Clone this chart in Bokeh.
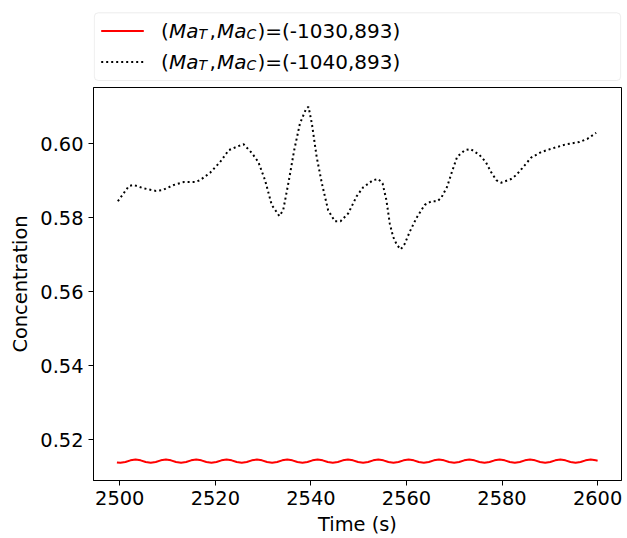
from bokeh.plotting import figure
from bokeh.layouts import column
from bokeh.models import Range1d, FixedTicker, BoxAnnotation, NumeralTickFormatter
from bokeh.core.properties import value
from bokeh.embed import file_html
from bokeh.resources import INLINE

# ---- data ----
time_red = [2499.40,
            2500.13, 2501.18, 2502.24, 2503.30, 2504.36, 2505.42,
            2506.48, 2507.53, 2508.59, 2509.65, 2510.71, 2511.77,
            2512.83, 2513.88, 2514.94, 2516.00, 2517.06, 2518.12,
            2519.18, 2520.23, 2521.29, 2522.35, 2523.41, 2524.47,
            2525.53, 2526.58, 2527.64, 2528.70, 2529.76, 2530.82,
            2531.88, 2532.93, 2533.99, 2535.05, 2536.11, 2537.17,
            2538.23, 2539.28, 2540.34, 2541.40, 2542.46, 2543.52,
            2544.58, 2545.63, 2546.69, 2547.75, 2548.81, 2549.87,
            2550.93, 2551.98, 2553.04, 2554.10, 2555.16, 2556.22,
            2557.28, 2558.33, 2559.39, 2560.45, 2561.51, 2562.57,
            2563.63, 2564.68, 2565.74, 2566.80, 2567.86, 2568.92,
            2569.98, 2571.03, 2572.09, 2573.15, 2574.21, 2575.27,
            2576.33, 2577.38, 2578.44, 2579.50, 2580.56, 2581.62,
            2582.68, 2583.73, 2584.79, 2585.85, 2586.91, 2587.97,
            2589.03, 2590.08, 2591.14, 2592.20, 2593.26, 2594.32,
            2595.38, 2596.43, 2597.49, 2598.55, 2599.61, 2600.00]
conc_red = [0.51380,
            0.51370, 0.51393, 0.51438, 0.51460, 0.51438, 0.51393,
            0.51370, 0.51393, 0.51438, 0.51460, 0.51438, 0.51393,
            0.51370, 0.51393, 0.51438, 0.51460, 0.51438, 0.51393,
            0.51370, 0.51393, 0.51438, 0.51460, 0.51438, 0.51393,
            0.51370, 0.51393, 0.51438, 0.51460, 0.51438, 0.51393,
            0.51370, 0.51393, 0.51438, 0.51460, 0.51438, 0.51393,
            0.51370, 0.51393, 0.51438, 0.51460, 0.51438, 0.51393,
            0.51370, 0.51393, 0.51438, 0.51460, 0.51438, 0.51393,
            0.51370, 0.51393, 0.51438, 0.51460, 0.51438, 0.51393,
            0.51370, 0.51393, 0.51438, 0.51460, 0.51438, 0.51393,
            0.51370, 0.51393, 0.51438, 0.51460, 0.51438, 0.51393,
            0.51370, 0.51393, 0.51438, 0.51460, 0.51438, 0.51393,
            0.51370, 0.51393, 0.51438, 0.51460, 0.51438, 0.51393,
            0.51370, 0.51393, 0.51438, 0.51460, 0.51438, 0.51393,
            0.51370, 0.51393, 0.51438, 0.51460, 0.51438, 0.51393,
            0.51370, 0.51393, 0.51438, 0.51460, 0.51438, 0.51425]

time_black = [2499.6, 2501.9, 2502.9, 2505.0, 2507.5, 2508.9, 2511.3, 2513.4, 2515.8, 2516.8,
              2518.9, 2521.0, 2522.8, 2524.8, 2525.9, 2527.6, 2529.0, 2530.4, 2531.8, 2533.4,
              2534.2, 2535.4, 2536.5, 2537.7, 2539.0, 2539.5, 2540.2, 2541.2, 2542.3, 2543.6,
              2545.0, 2546.2, 2547.8, 2549.6, 2550.9, 2553.0, 2554.1, 2555.0, 2555.8, 2556.5,
              2557.2, 2558.0, 2558.8, 2559.6, 2560.7, 2562.1, 2563.8, 2565.2, 2566.5, 2567.3,
              2568.5, 2569.5, 2570.6, 2572.2, 2573.4, 2575.2, 2576.6, 2577.7, 2578.8, 2579.8,
              2581.9, 2583.0, 2584.2, 2586.1, 2588.2, 2590.6, 2593.4, 2596.2, 2597.9, 2599.7]
conc_black = [0.5844, 0.5885, 0.5888, 0.5879, 0.5872, 0.5874, 0.5888, 0.5896, 0.5896, 0.5901,
              0.5921, 0.5950, 0.5982, 0.5993, 0.5998, 0.5975, 0.5950, 0.5901, 0.5834, 0.5804,
              0.5820, 0.5901, 0.5982, 0.6054, 0.6094, 0.6099, 0.6054, 0.5964, 0.5892, 0.5820,
              0.5790, 0.5790, 0.5811, 0.5858, 0.5881, 0.5901, 0.5904, 0.5892, 0.5847, 0.5784,
              0.5748, 0.5726, 0.5714, 0.5728, 0.5762, 0.5799, 0.5834, 0.5844, 0.5844, 0.5854,
              0.5883, 0.5923, 0.5964, 0.5982, 0.5985, 0.5970, 0.5950, 0.5923, 0.5901, 0.5894,
              0.5904, 0.5915, 0.5933, 0.5962, 0.5977, 0.5987, 0.5998, 0.6004, 0.6013, 0.6029]

x_ticks = [2500, 2520, 2540, 2560, 2580, 2600]
y_ticks = [0.52, 0.54, 0.56, 0.58, 0.60]
legend_values = ["(-1030,893)", "(-1040,893)"]
x_label = "Time (s)"
y_label = "Concentration"

FONT = "DejaVu Sans"
FS = "19.4px"
LFS = "20px"
SUB = "14px"

# ---- legend panel (pixel coordinates, y downward); frame spans x 93..621 ----
leg = figure(width=627, height=86, x_range=Range1d(93, 621), y_range=Range1d(86, 0),
             output_backend="svg", toolbar_location=None,
             min_border_left=93, min_border_right=6, min_border_top=0, min_border_bottom=0,
             x_axis_location=None, y_axis_location=None)
leg.grid.visible = False
leg.outline_line_color = None
leg.add_layout(BoxAnnotation(left=93.8, right=620.2, top=12.3, bottom=80,
                             fill_color="white", fill_alpha=1.0, level="underlay",
                             line_color="#c4c4c4", line_width=1, border_radius=4))
rows = [30.5, 61.5]
base = [30.0, 61.0]
leg.line([100.7, 143.3], [rows[0], rows[0]], line_color="red", line_width=2)
leg.line([100.7, 143.3], [rows[1], rows[1]], line_color="black", line_width=2, line_dash="2 3")

common = dict(text_font=value(FONT), text_color="black", text_baseline="alphabetic", text_align="left")
for b, val in zip(base, legend_values):
    leg.text(x=[160.5, 209.0, 257.0], y=[b, b, b], text=["(", ",", ")=" + val],
             text_font_size=value(LFS), text_font_style="normal", **common)
    leg.text(x=[168.5, 216.5], y=[b, b], text=["Ma", "Ma"],
             text_font_size=value(LFS), text_font_style="italic", **common)
    leg.text(x=[198.0, 246.0], y=[b + 3.4, b + 3.4], text=["T", "C"],
             text_font_size=value(SUB), text_font_style="italic", **common)

# ---- main plot ----
p = figure(width=627, height=452, x_range=Range1d(2494.5, 2605.0),
           y_range=Range1d(0.50893, 0.61514),
           output_backend="svg", toolbar_location=None,
           min_border_left=93, min_border_right=6, min_border_top=1, min_border_bottom=57)
p.line(time_red, conc_red, line_color="red", line_width=2)
p.line(time_black, conc_black, line_color="black", line_width=2, line_dash="2 3")

p.grid.visible = False
p.outline_line_color = "black"
p.outline_line_width = 1
p.background_fill_color = "white"
p.border_fill_color = "white"

p.xaxis.ticker = FixedTicker(ticks=x_ticks)
p.yaxis.ticker = FixedTicker(ticks=y_ticks)
p.yaxis.formatter = NumeralTickFormatter(format="0.00")
p.xaxis.axis_label = x_label
p.yaxis.axis_label = y_label
for ax in (p.xaxis, p.yaxis):
    ax.axis_line_color = "black"
    ax.axis_line_width = 1
    ax.major_tick_line_color = "black"
    ax.major_tick_out = 5
    ax.major_tick_in = 0
    ax.minor_tick_line_color = None
    ax.major_label_text_font = FONT
    ax.major_label_text_font_size = FS
    ax.major_label_text_color = "black"
    ax.major_label_standoff = 5
    ax.axis_label_text_font = FONT
    ax.axis_label_text_font_size = FS
    ax.axis_label_text_font_style = "normal"
    ax.axis_label_text_color = "black"
p.xaxis.axis_label_standoff = 5
p.yaxis.axis_label_standoff = 5

layout = column(leg, p, spacing=0)
open("out.html", "w").write(file_html(layout, INLINE))
